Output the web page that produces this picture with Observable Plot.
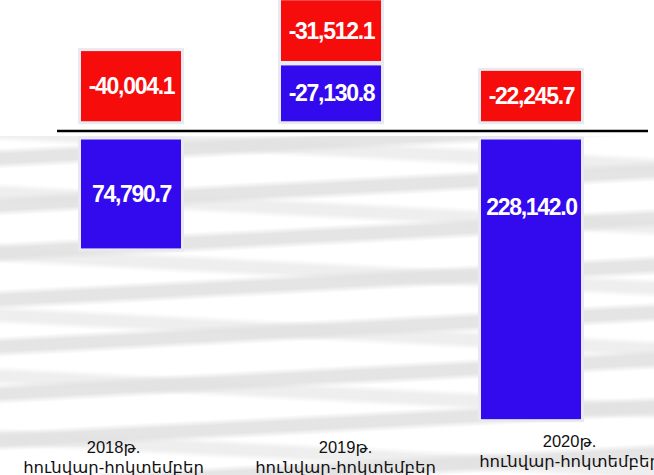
<!DOCTYPE html>
<html>
<head>
<meta charset="utf-8">
<script src="https://cdn.jsdelivr.net/npm/d3@7"></script>
<script src="https://cdn.jsdelivr.net/npm/@observablehq/plot@0.6"></script>
<style>
  html, body { margin: 0; padding: 0; background: #fff; }
  #chart { position: relative; width: 654px; height: 475px; overflow: hidden; background: #fff; }
  #bg {
    position: absolute; left: 0; top: 136px; width: 654px; height: 339px;
    background:
      repeating-linear-gradient(183deg,
        rgba(225,225,225,0) 0px, rgba(225,225,225,0) 20px,
        rgba(225,225,225,0.55) 26px, rgba(225,225,225,0.55) 34px,
        rgba(225,225,225,0) 40px, rgba(225,225,225,0) 61px),
      repeating-linear-gradient(177deg,
        rgba(226,226,226,0) 0px, rgba(226,226,226,0) 12px,
        rgba(224,224,224,0.85) 18px, rgba(224,224,224,0.85) 27px,
        rgba(226,226,226,0) 33px, rgba(226,226,226,0) 47px);
  }
  #chart svg { position: absolute; left: 0; top: 0; }
  #chart svg g[fill="white"] text { letter-spacing: -1.3px; }
</style>
</head>
<body>
<div id="chart"><div id="bg"></div></div>
<script>
// ---- data ----
const years = ["2018", "2019", "2020"];
const yearLabels = ["2018թ.", "2019թ.", "2020թ."];
const periodLabel = "հունվար-հոկտեմբեր";
const seriesBlue = [74790.7, -27130.8, 228142.0];
const seriesRed = [-40004.1, -31512.1, -22245.7];

// ---- layout of the padded, stacked boxes (in value units) ----
const PAD = 23000;        // extra room inside each box for its label
const GAP = 8200;         // distance between the zero line and the first box
const STACK_GAP = 4000;   // distance between stacked boxes
const LABEL_DEPTH = 61000; // label depth inside downward bars
const rows = [];
years.forEach((yr, i) => {
  let up = GAP, down = GAP;
  for (const [key, vals] of [["s1", seriesBlue], ["s2", seriesRed]]) {
    const v = vals[i];
    const size = Math.abs(v) + PAD;
    if (v < 0) {
      rows.push({year: yr, series: key, value: v, y1: -up, y2: -(up + size), ty: -(up + size / 2)});
      up += size + STACK_GAP;
    } else {
      rows.push({year: yr, series: key, value: v, y1: down, y2: down + size, ty: down + Math.min(size / 2, LABEL_DEPTH)});
      down += size + STACK_GAP;
    }
  }
});

const fmt = d3.formatLocale({decimal: ".", thousands: ",", grouping: [3], currency: ["", ""], minus: "-"}).format(",.1f");

const labelShift = {"2018": -18, "2019": 14, "2020": 38};
const labelDy = {"2018": -3, "2019": -3, "2020": -9};

const chart = Plot.plot({
  width: 654,
  height: 475,
  marginLeft: 31,
  marginRight: 23,
  marginTop: 0,
  marginBottom: 0,
  style: {background: "transparent", overflow: "visible"},
  x: {domain: years, type: "band", paddingInner: 0.5, paddingOuter: 0.25, axis: null},
  y: {domain: [-117100, 309500], reverse: true, axis: null},
  color: {domain: ["s1", "s2"], range: ["#330aee", "#f70c0c"]},
  marks: [
    Plot.barY(rows, {x: "year", y1: "y1", y2: "y2", fill: "#e9e9f1",
      insetLeft: -3, insetRight: -3, insetTop: -3, insetBottom: -3}),
    Plot.barY(rows, {x: "year", y1: "y1", y2: "y2", fill: "series"}),
    Plot.ruleY([0], {stroke: "#000", strokeWidth: 2.5, insetLeft: 26, insetRight: -17}),
    Plot.text(rows, {x: "year", y: "ty", text: d => fmt(d.value),
      fill: "white", fontWeight: "bold", fontSize: 23, fontFamily: "Liberation Sans, Arial, sans-serif"}),
    ...years.map((yr, i) => Plot.text([yr], {
      x: d => d, frameAnchor: "bottom", lineAnchor: "bottom",
      text: () => yearLabels[i] + "\n" + periodLabel,
      dx: labelShift[yr], dy: labelDy[yr], lineHeight: 1.2,
      fill: "#111", fontSize: 16.5, fontFamily: "Liberation Sans, DejaVu Sans, sans-serif"
    }))
  ]
});
document.getElementById("chart").appendChild(chart);
</script>
</body>
</html>
